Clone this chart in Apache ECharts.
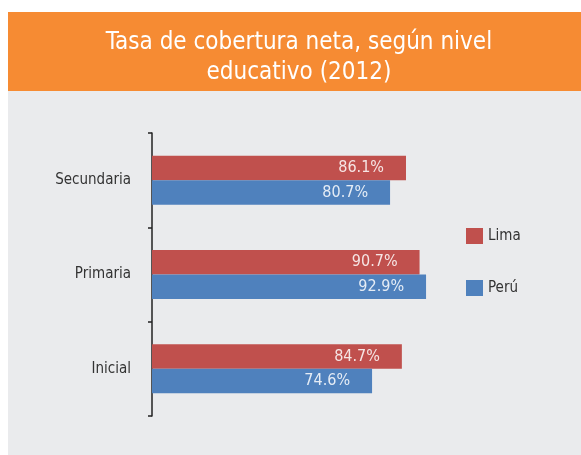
<!DOCTYPE html>
<html>
<head>
<meta charset="utf-8">
<script src="https://cdn.jsdelivr.net/npm/echarts@6/dist/echarts.min.js"></script>
<style>
  html, body { margin: 0; padding: 0; background: #fff; }
</style>
</head>
<body>
<div id="MyChart" style="width: 581px;height:455px;"></div>
<script>
// datos: tasa de cobertura neta 2012
const niveles = ['Inicial', 'Primaria', 'Secundaria']
const lima = [84.7, 90.7, 86.1]
const peru = [74.6, 92.9, 80.7]

let myChart = echarts.init(document.getElementById('MyChart'))
let font = '"Liberation Sans Narrow", "DejaVu Sans Condensed", "Noto Sans", sans-serif'

let option = {
  backgroundColor: '#fff',
  animation: false,
  graphic: [
    { type: 'rect', shape: { x: 8, y: 91, width: 573, height: 364 }, style: { fill: '#eaebed' }, z: -10 },
    { type: 'rect', shape: { x: 8, y: 12, width: 573, height: 79 }, style: { fill: '#f68b33' }, z: -10 }
  ],
  title: {
    text: 'Tasa de cobertura neta, según nivel\neducativo (2012)',
    left: 294,
    top: 23,
    textAlign: 'center',
    textStyle: {
      color: '#fff',
      fontFamily: font,
      fontWeight: 'normal',
      fontSize: 24,
      lineHeight: 30
    }
  },
  legend: {
    orient: 'vertical',
    left: 461,
    top: 223,
    icon: 'rect',
    itemWidth: 17,
    itemHeight: 16,
    itemGap: 36,
    textStyle: { color: '#333', fontSize: 15, fontFamily: font }
  },
  grid: {
    left: 152,
    top: 133,
    width: 295,
    height: 283
  },
  xAxis: {
    type: 'value',
    min: 0,
    max: 100,
    show: false
  },
  yAxis: {
    type: 'category',
    data: niveles,
    axisLine: { show: true, lineStyle: { color: '#222', width: 1.5 } },
    axisTick: { show: true, length: 4, lineStyle: { color: '#222', width: 1.5 } },
    axisLabel: { color: '#333', fontSize: 15, margin: 21, fontFamily: font }
  },
  series: [
    {
      name: 'Lima',
      type: 'bar',
      data: lima,
      barWidth: 24.5,
      barGap: 0,
      itemStyle: { color: '#c0504d' },
      label: {
        show: true,
        position: 'insideRight',
        distance: 22,
        formatter: p => p.value.toFixed(1) + '%',
        color: 'rgba(255,255,255,0.85)',
        fontSize: 16,
        fontFamily: font
      }
    },
    {
      name: 'Perú',
      type: 'bar',
      data: peru,
      barWidth: 24.5,
      barGap: 0,
      itemStyle: { color: '#4f81bd' },
      label: {
        show: true,
        position: 'insideRight',
        distance: 22,
        formatter: p => p.value.toFixed(1) + '%',
        color: 'rgba(255,255,255,0.85)',
        fontSize: 16,
        fontFamily: font
      }
    }
  ]
}
myChart.setOption(option)
</script>
</body>
</html>
